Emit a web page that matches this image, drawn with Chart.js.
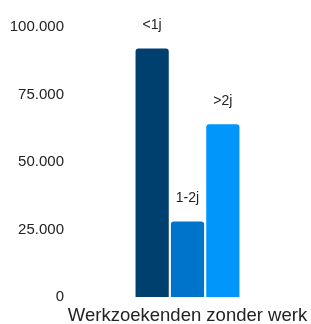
<!DOCTYPE html>
<html>
<head>
<meta charset="utf-8">
<script src="https://cdn.jsdelivr.net/npm/chart.js@4"></script>
<style>
  html, body { margin: 0; padding: 0; background: #fff; }
  #wrap { width: 311px; height: 324px; }
</style>
</head>
<body>
<div id="wrap"><canvas id="werkChart"></canvas></div>
<script>
const categories = ['Werkzoekenden zonder werk'];
const groupLabels = ['<1j', '1-2j', '>2j'];
const groupValues = [92000, 28000, 64000];
const groupColors = ['#00406f', '#0073cb', '#0096fc'];
const yTicks = [0, 25000, 50000, 75000, 100000];

const fontFamily = '"Liberation Sans", Arial, sans-serif';

function formatThousands(value) {
    return String(value).replace(/\B(?=(\d{3})+(?!\d))/g, '.');
}

// draws the dataset name above each bar
const barLabelPlugin = {
    id: 'barLabels',
    afterDatasetsDraw(chart) {
        const ctx = chart.ctx;
        ctx.save();
        ctx.font = '14px ' + fontFamily;
        ctx.fillStyle = '#222';
        ctx.textAlign = 'center';
        ctx.textBaseline = 'middle';
        chart.data.datasets.forEach((ds, i) => {
            chart.getDatasetMeta(i).data.forEach(bar => {
                ctx.fillText(ds.label, bar.x, bar.y - 23);
            });
        });
        ctx.restore();
    }
};

const datasets = groupLabels.map((label, i) => ({
    label: label,
    data: [groupValues[i]],
    backgroundColor: groupColors[i],
    borderRadius: 3,
    borderSkipped: 'start',
    categoryPercentage: 0.44,
    barPercentage: 0.94
}));

new Chart(document.getElementById('werkChart'), {
    type: 'bar',
    data: { labels: categories, datasets: datasets },
    plugins: [barLabelPlugin],
    options: {
        responsive: true,
        maintainAspectRatio: false,
        animation: false,
        layout: { padding: { top: 27, left: 8, right: 3, bottom: 0 } },
        plugins: {
            legend: { display: false },
            tooltip: { enabled: false }
        },
        scales: {
            x: {
                afterFit(scale) {
                    scale.height = 27;
                    scale.paddingLeft = 0;
                    scale.paddingRight = 0;
                },
                grid: { display: false, drawTicks: false },
                border: { display: false },
                ticks: {
                    color: '#222',
                    padding: 8,
                    font: { family: fontFamily, size: 18.5 }
                }
            },
            y: {
                min: 0,
                max: 100000,
                afterFit(scale) { scale.width = 59; },
                afterBuildTicks(scale) { scale.ticks = yTicks.map(v => ({ value: v })); },
                grid: { display: false, drawTicks: false },
                border: { display: false },
                ticks: {
                    color: '#222',
                    padding: 3,
                    font: { family: fontFamily, size: 15 },
                    callback: value => formatThousands(value)
                }
            }
        }
    }
});
</script>
</body>
</html>
